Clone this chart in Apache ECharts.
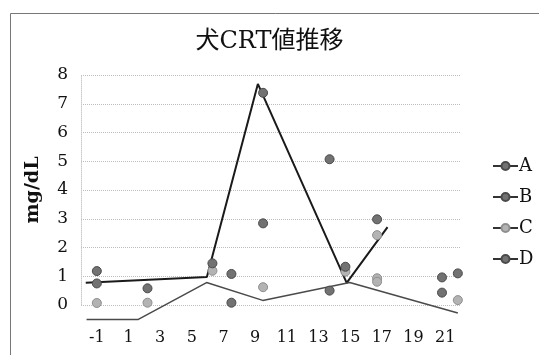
<!DOCTYPE html>
<html>
<head>
<meta charset="utf-8">
<script src="https://cdn.jsdelivr.net/npm/echarts@6/dist/echarts.min.js"></script>
<style>
  html, body { margin: 0; padding: 0; background: #fff; }
  #chart { width: 539px; height: 355px; }
</style>
</head>
<body>
<div id="chart"></div>
<script>
// marker readings: [day, mg/dL]
const seriesNames = ['A', 'B', 'C', 'D'];
const aData = [[-1, 1.18], [7.5, 1.08], [13.7, 5.07], [16.7, 2.98], [21.8, 1.1]];
const bData = [[-1, 0.75], [2.2, 0.58], [7.5, 0.08], [9.5, 2.84], [13.7, 0.5], [20.8, 0.43]];
const cData = [[-1, 0.07], [2.2, 0.08], [6.3, 1.19], [9.5, 0.62], [14.7, 1.16], [16.7, 2.43], [16.7, 0.93], [16.7, 0.81], [21.8, 0.17]];
const dData = [[6.3, 1.45], [9.5, 7.38], [14.7, 1.33], [20.8, 0.96]];

// the two drawn lines
const upperLine = [[-1.7, 0.77], [5.95, 0.97], [9.17, 7.69], [14.78, 0.77], [17.36, 2.71]];
const lowerLine = [[-1.65, -0.5], [1.62, -0.5], [5.93, 0.78], [9.48, 0.16], [14.97, 0.78], [21.8, -0.28]];

const xTicks = [-1, 1, 3, 5, 7, 9, 11, 13, 15, 17, 19, 21];
const yTicks = [0, 1, 2, 3, 4, 5, 6, 7, 8];

const serif = "'DejaVu Serif', 'Liberation Serif', 'Noto Sans CJK JP', serif";
const dark = { color: '#727272', borderColor: '#4a4a4a', borderWidth: 1 };
const light = { color: '#b3b3b3', borderColor: '#8e8e8e', borderWidth: 1 };

function markerSeries(name, data, style) {
  return {
    name: name,
    type: 'line',
    data: data,
    symbol: 'circle',
    symbolSize: 9,
    itemStyle: style,
    lineStyle: { opacity: 0 },
    z: 3
  };
}

function drawnLine(data, color, width) {
  return {
    type: 'line',
    data: data,
    showSymbol: false,
    clip: false,
    lineStyle: { color: color, width: width },
    itemStyle: { color: color },
    silent: true,
    z: 2
  };
}

const chart = echarts.init(document.getElementById('chart'));
chart.setOption({
  animation: false,
  backgroundColor: '#fff',
  title: {
    text: '犬CRT値推移',
    left: 'center',
    top: 25,
    textStyle: { fontFamily: serif, fontSize: 24, fontWeight: 'normal', color: '#111' }
  },
  legend: {
    data: seriesNames,
    orient: 'vertical',
    left: 487,
    top: 152,
    itemWidth: 25,
    itemHeight: 10,
    itemGap: 13,
    textStyle: { fontFamily: serif, fontSize: 18, color: '#111', padding: [0, 0, 0, -4] },
    lineStyle: { opacity: 1, width: 2, color: '#333' }
  },
  grid: { left: 81, right: 78, top: 75, bottom: 50 },
  xAxis: {
    type: 'value',
    min: -2,
    max: 22,
    interval: 1,
    axisLine: { show: false },
    axisTick: { show: false },
    splitLine: { show: false },
    axisLabel: {
      margin: 25,
      fontFamily: serif,
      fontSize: 16,
      color: '#111',
      formatter: function (v) { return xTicks.indexOf(v) >= 0 ? String(v) : ''; }
    }
  },
  yAxis: {
    type: 'value',
    min: yTicks[0],
    max: yTicks[yTicks.length - 1],
    interval: 1,
    name: 'mg/dL',
    nameLocation: 'middle',
    nameGap: 38,
    nameTextStyle: { fontFamily: serif, fontSize: 19, fontWeight: 'bold', color: '#111' },
    axisLine: { show: true, onZero: false, lineStyle: { color: '#ccc', type: 'dotted', width: 1 } },
    axisTick: { show: false },
    axisLabel: { margin: 13, fontFamily: serif, fontSize: 17, color: '#111' },
    splitLine: { show: true, lineStyle: { color: '#bdbdbd', type: 'dotted', width: 1 } }
  },
  graphic: [{
    type: 'rect',
    shape: { x: 10.5, y: 13.5, width: 600, height: 400 },
    style: { fill: 'none', stroke: '#777', lineWidth: 1 },
    silent: true
  }],
  series: [
    drawnLine(upperLine, '#1a1a1a', 2),
    drawnLine(lowerLine, '#4a4a4a', 1.5),
    markerSeries('A', aData, dark),
    markerSeries('B', bData, dark),
    markerSeries('C', cData, light),
    markerSeries('D', dData, dark)
  ]
});
</script>
</body>
</html>
